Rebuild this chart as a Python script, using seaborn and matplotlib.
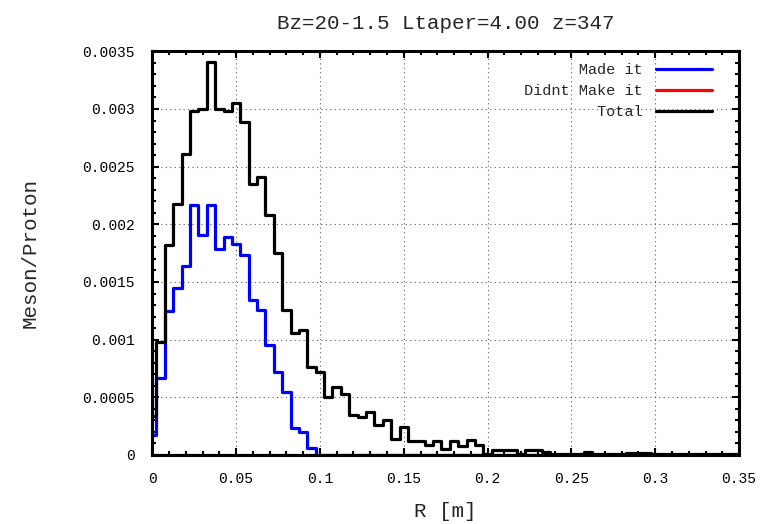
import matplotlib
matplotlib.use("Agg")
import matplotlib.pyplot as plt
from matplotlib.lines import Line2D
from matplotlib.ticker import MultipleLocator, FuncFormatter
import numpy as np
import pandas as pd
import seaborn as sns

# Bin centres of the radial histogram [m]
r_centres = [
    0.000, 0.005, 0.010, 0.015, 0.020, 0.025, 0.030, 0.035, 0.040, 0.045,
    0.050, 0.055, 0.060, 0.065, 0.070, 0.075, 0.080, 0.085, 0.090, 0.095,
    0.100, 0.105, 0.110, 0.115, 0.120, 0.125, 0.130, 0.135, 0.140, 0.145,
    0.150, 0.155, 0.160, 0.165, 0.170, 0.175, 0.180, 0.185, 0.190, 0.195,
    0.200, 0.205, 0.210, 0.215, 0.220, 0.225, 0.230, 0.235, 0.240, 0.245,
    0.250, 0.255, 0.260, 0.265, 0.270, 0.275, 0.280, 0.285, 0.290, 0.295,
    0.300, 0.305, 0.310, 0.315, 0.320, 0.325, 0.330, 0.335, 0.340, 0.345,
    0.350,
]

# Mesons per proton that made it through the taper
made_it = [
    0.00017, 0.00067, 0.00125, 0.00145, 0.00164, 0.00217, 0.00191, 0.00217, 0.00179, 0.00189,
    0.00183, 0.00173, 0.00134, 0.00126, 0.00095, 0.00072, 0.00055, 0.00023, 0.00020, 0.00006,
    0.0, 0.0, 0.0, 0.0, 0.0, 0.0, 0.0, 0.0, 0.0, 0.0,
    0.0, 0.0, 0.0, 0.0, 0.0, 0.0, 0.0, 0.0, 0.0, 0.0,
    0.0, 0.0, 0.0, 0.0, 0.0, 0.0, 0.0, 0.0, 0.0, 0.0,
    0.0, 0.0, 0.0, 0.0, 0.0, 0.0, 0.0, 0.0, 0.0, 0.0,
    0.0, 0.0, 0.0, 0.0, 0.0, 0.0, 0.0, 0.0, 0.0, 0.0,
    0.0,
]

# Mesons per proton lost in the taper
didnt_make_it = [0.0] * 71

# All mesons per proton
total = [
    0.00034, 0.00098, 0.00182, 0.00218, 0.00261, 0.00298, 0.00300, 0.00341, 0.00300, 0.00298,
    0.00305, 0.00289, 0.00235, 0.00241, 0.00208, 0.00175, 0.00126, 0.00106, 0.00108, 0.00076,
    0.00072, 0.00050, 0.00059, 0.00053, 0.00035, 0.00033, 0.00037, 0.00026, 0.00030, 0.00014,
    0.00024, 0.00012, 0.00012, 0.00009, 0.00012, 0.00005, 0.00012, 0.00008, 0.00013, 0.00009,
    0.00001, 0.00004, 0.00004, 0.00004, 0.00001, 0.00004, 0.00004, 0.00003, 0.00001, 0.00001,
    0.00001, 0.00001, 0.00003, 0.00001, 0.00001, 0.00001, 0.00001, 0.00002, 0.00002, 0.00002,
    0.00001, 0.00001, 0.00001, 0.00001, 0.00001, 0.00001, 0.00001, 0.00001, 0.00001, 0.00001,
    0.00001,
]

series_names = ["Made it", "Didnt Make it", "Total"]
series_colors = ["#0000ff", "#ff0000", "#000000"]

frames = []
for name, vals in zip(series_names, [made_it, didnt_make_it, total]):
    frames.append(pd.DataFrame({"R": r_centres, "ratio": vals, "series": name}))
df = pd.concat(frames, ignore_index=True)

sns.set_style("ticks")
plt.rcParams["font.family"] = ["Liberation Mono", "DejaVu Sans Mono"]

fig = plt.figure(figsize=(7.66, 5.24), dpi=100)
ax = fig.add_axes([0.1988, 0.1317, 0.766, 0.7704])

sns.lineplot(
    data=df, x="R", y="ratio", hue="series",
    hue_order=series_names, palette=dict(zip(series_names, series_colors)),
    drawstyle="steps-mid", linewidth=2.3, estimator=None, errorbar=None,
    sort=False, legend=False, ax=ax,
)

ax.set_xlim(0, 0.35)
ax.set_ylim(0, 0.0035)
ax.xaxis.set_major_locator(MultipleLocator(0.05))
ax.xaxis.set_minor_locator(MultipleLocator(0.01))
ax.yaxis.set_major_locator(MultipleLocator(0.0005))
ax.yaxis.set_minor_locator(MultipleLocator(0.0001))
fmt = FuncFormatter(lambda v, _: "%g" % round(v, 6))
ax.xaxis.set_major_formatter(fmt)
ax.yaxis.set_major_formatter(fmt)

ax.grid(True, which="major", color="#333333", linestyle=(0, (1, 3)), linewidth=0.8, alpha=0.8)
ax.set_axisbelow(True)

ax.tick_params(which="both", direction="in", top=True, right=True,
               width=1.5, color="black", labelsize=10.5, labelcolor="black")
ax.tick_params(which="major", length=5)
ax.tick_params(which="minor", length=3)
ax.tick_params(axis="x", which="major", pad=12)
ax.tick_params(axis="y", which="major", pad=12.5)

for sp in ax.spines.values():
    sp.set_linewidth(2.2)
    sp.set_color("black")
    sp.set_zorder(5)

ax.set_title("Bz=20-1.5 Ltaper=4.00 z=347", fontsize=15, pad=16)
ax.set_xlabel("R [m]", fontsize=15)
ax.set_ylabel("Meson/Proton", fontsize=15)
ax.xaxis.set_label_coords(0.5, -0.139)
ax.xaxis.label.set_va("center")
ax.yaxis.set_label_coords(-0.2085, 0.5)
ax.yaxis.label.set_va("center")

# Right-justified legend labels (monospaced font, so pad with spaces)
width = max(len(n) for n in series_names)
handles = [Line2D([], [], color=c, linewidth=2.3) for c in series_colors]
labels = [n.rjust(width) for n in series_names]
ax.legend(handles, labels, loc="upper right", bbox_to_anchor=(0.954, 0.970),
          frameon=False, markerfirst=False, fontsize=11, borderpad=0,
          borderaxespad=0, handlelength=3.7, handletextpad=0.85,
          labelspacing=0.45)

fig.savefig("out.png", dpi=100)
